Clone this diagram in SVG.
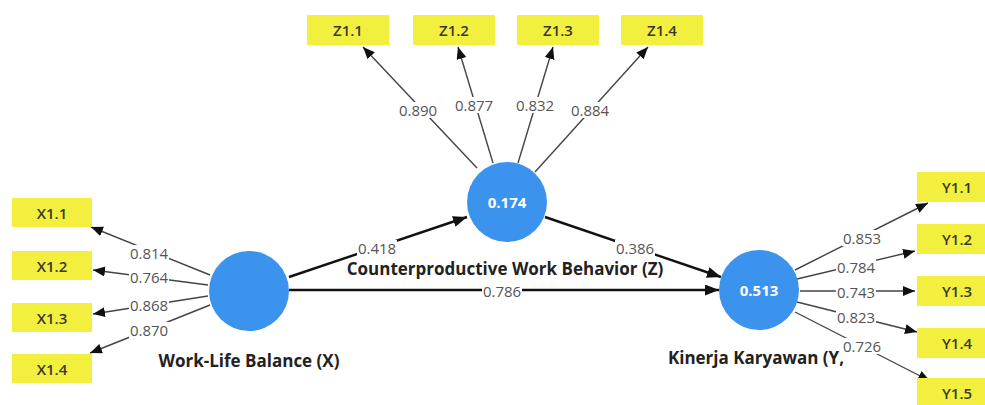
<svg xmlns="http://www.w3.org/2000/svg" width="985" height="405" viewBox="0 0 985 405">
<style>
.box{fill:#f3ef3e}
.bt{font-family:"Open Sans","Liberation Sans",sans-serif;font-size:15px;font-weight:600;fill:#3a3a2a;text-anchor:middle;dominant-baseline:central}
.lv{fill:#3b93ee}
.lvt{font-family:"Open Sans","Liberation Sans",sans-serif;font-size:15px;font-weight:bold;fill:#fff;text-anchor:middle;dominant-baseline:central}
.name{font-family:"Open Sans","Liberation Sans",sans-serif;font-size:17px;font-weight:bold;fill:#222;text-anchor:middle;dominant-baseline:central}
.ind{stroke:#444;stroke-width:1.4;fill:none;marker-end:url(#ah)}
.str{stroke:#111;stroke-width:2.4;fill:none;marker-end:url(#ah2)}
.lb{fill:#fff}
.lbl{font-family:"Open Sans","Liberation Sans",sans-serif;font-size:15px;fill:#555;text-anchor:middle;dominant-baseline:central}
</style>
<defs>
<marker id="ah" markerUnits="userSpaceOnUse" markerWidth="14" markerHeight="12" refX="12" refY="5" orient="auto">
<path d="M0,0 L12,5 L0,10 z" fill="#111"/>
</marker>
<marker id="ah2" markerUnits="userSpaceOnUse" markerWidth="16" markerHeight="12" refX="14" refY="5.5" orient="auto">
<path d="M0,0 L14,5.5 L0,11 z" fill="#111"/>
</marker>
</defs>
<rect width="985" height="405" fill="#fff"/>
<g id="connectors">
<line class="ind" x1="210" y1="275" x2="91" y2="227"/>
<line class="ind" x1="208" y1="285" x2="93" y2="270"/>
<line class="ind" x1="208" y1="296" x2="93" y2="314"/>
<line class="ind" x1="210" y1="305" x2="90" y2="353"/>
<line class="ind" x1="477" y1="168" x2="363" y2="47"/>
<line class="ind" x1="493" y1="163" x2="458" y2="47"/>
<line class="ind" x1="518" y1="163" x2="553" y2="47"/>
<line class="ind" x1="535" y1="172" x2="648" y2="47"/>
<line class="ind" x1="795" y1="270" x2="928" y2="203"/>
<line class="ind" x1="797" y1="279" x2="915" y2="251"/>
<line class="ind" x1="800" y1="291" x2="915" y2="291"/>
<line class="ind" x1="797" y1="302" x2="917" y2="332"/>
<line class="ind" x1="795" y1="312" x2="930" y2="381"/>
<line class="str" x1="289" y1="277" x2="467" y2="217"/>
<line class="str" x1="289" y1="290" x2="719" y2="290"/>
<line class="str" x1="545" y1="217" x2="721" y2="277"/>
<g class="lb">
<rect x="129" y="245" width="40" height="16"/>
<rect x="129" y="269" width="40" height="16"/>
<rect x="129" y="297" width="40" height="16"/>
<rect x="129" y="322" width="40" height="16"/>
<rect x="398" y="102" width="40" height="16"/>
<rect x="454" y="97" width="40" height="16"/>
<rect x="515" y="97" width="40" height="16"/>
<rect x="570" y="102" width="40" height="16"/>
<rect x="842" y="230" width="40" height="16"/>
<rect x="836" y="259" width="40" height="16"/>
<rect x="836" y="284" width="40" height="16"/>
<rect x="836" y="309" width="40" height="16"/>
<rect x="842" y="338" width="40" height="16"/>
<rect x="357" y="240" width="40" height="16"/>
<rect x="482" y="283" width="40" height="16"/>
<rect x="615" y="240" width="40" height="16"/>
</g>
<text class="lbl" x="149" y="253">0.814</text>
<text class="lbl" x="149" y="277">0.764</text>
<text class="lbl" x="149" y="305">0.868</text>
<text class="lbl" x="149" y="330">0.870</text>
<text class="lbl" x="418" y="110">0.890</text>
<text class="lbl" x="474" y="105">0.877</text>
<text class="lbl" x="535" y="105">0.832</text>
<text class="lbl" x="590" y="110">0.884</text>
<text class="lbl" x="862" y="238">0.853</text>
<text class="lbl" x="856" y="267">0.784</text>
<text class="lbl" x="856" y="292">0.743</text>
<text class="lbl" x="856" y="317">0.823</text>
<text class="lbl" x="862" y="346">0.726</text>
<text class="lbl" x="377" y="248">0.418</text>
<text class="lbl" x="502" y="291">0.786</text>
<text class="lbl" x="635" y="248">0.386</text>
</g>
<g id="X11"><rect class="box" x="12" y="198" width="80" height="29"/><text class="bt" x="52" y="213">X1.1</text></g>
<g id="X12"><rect class="box" x="12" y="251" width="80" height="29"/><text class="bt" x="52" y="266">X1.2</text></g>
<g id="X13"><rect class="box" x="12" y="303" width="80" height="29"/><text class="bt" x="52" y="318">X1.3</text></g>
<g id="X14"><rect class="box" x="12" y="354" width="80" height="29"/><text class="bt" x="52" y="369">X1.4</text></g>
<g id="Z11"><rect class="box" x="307" y="15" width="82" height="30"/><text class="bt" x="348" y="30">Z1.1</text></g>
<g id="Z12"><rect class="box" x="413" y="15" width="82" height="30"/><text class="bt" x="454" y="30">Z1.2</text></g>
<g id="Z13"><rect class="box" x="517" y="15" width="82" height="30"/><text class="bt" x="558" y="30">Z1.3</text></g>
<g id="Z14"><rect class="box" x="621" y="15" width="82" height="30"/><text class="bt" x="662" y="30">Z1.4</text></g>
<g id="Y11"><rect class="box" x="917" y="172" width="80" height="30"/><text class="bt" x="957" y="187">Y1.1</text></g>
<g id="Y12"><rect class="box" x="917" y="224" width="80" height="30"/><text class="bt" x="957" y="239">Y1.2</text></g>
<g id="Y13"><rect class="box" x="917" y="276" width="80" height="30"/><text class="bt" x="957" y="291">Y1.3</text></g>
<g id="Y14"><rect class="box" x="917" y="328" width="80" height="30"/><text class="bt" x="957" y="343">Y1.4</text></g>
<g id="Y15"><rect class="box" x="917" y="378" width="80" height="30"/><text class="bt" x="957" y="393">Y1.5</text></g>
<g id="X"><circle class="lv" cx="249" cy="291" r="40"/><text class="name" x="249" y="360">Work-Life Balance (X)</text></g>
<g id="Z"><circle class="lv" cx="507" cy="202" r="40"/><text class="lvt" x="507" y="202">0.174</text><text class="name" x="505" y="268">Counterproductive Work Behavior (Z)</text></g>
<g id="Y"><circle class="lv" cx="759" cy="290" r="40"/><text class="lvt" x="759" y="290">0.513</text><text class="name" x="756" y="357">Kinerja Karyawan (Y,</text></g>
</svg>
